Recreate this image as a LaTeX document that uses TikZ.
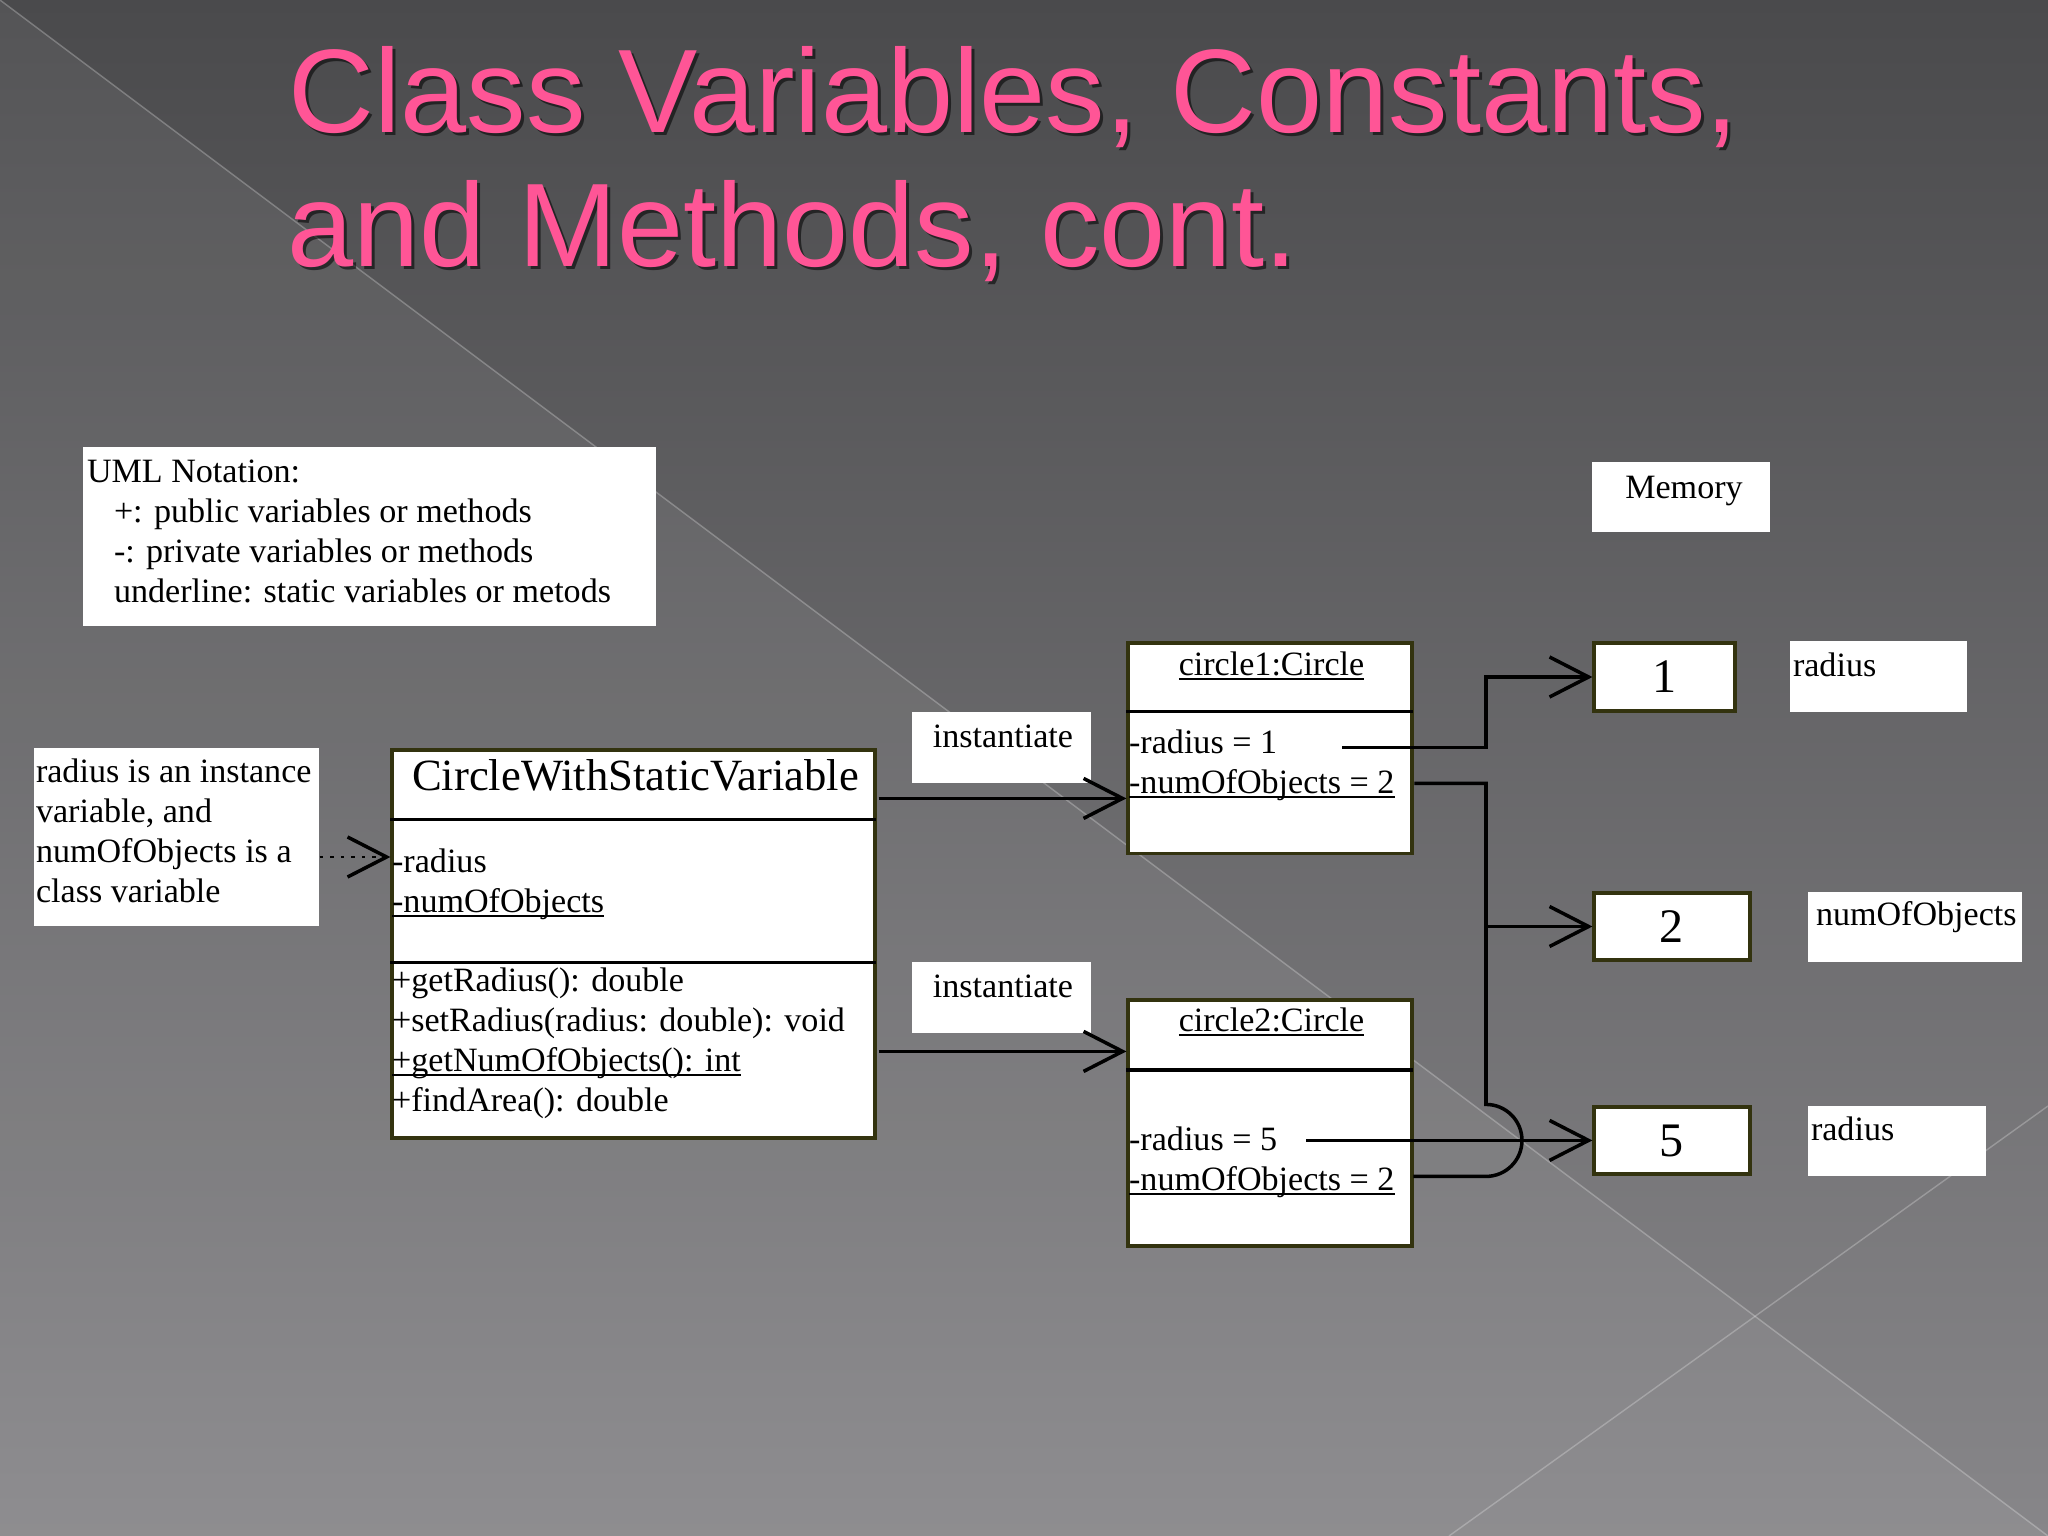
\documentclass[tikz,border=0pt]{standalone}
\usepackage{fontspec}
\setmainfont{Liberation Serif}
\newfontfamily\titolofont{Liberation Sans}
\usepackage{tikz}
\usetikzlibrary{positioning, arrows.meta, calc}
\definecolor{sfondoalto}{HTML}{4A4A4C}
\definecolor{sfondobasso}{HTML}{878689}
\definecolor{titolocol}{HTML}{FF5596}
\definecolor{bordocol}{HTML}{33330F}
% sottolineatura (membri statici)
\newcommand{\statico}[1]{\setbox0\hbox{#1}\rlap{\rule[-1.4pt]{\wd0}{0.55pt}}\box0}
\tikzset{
	>={Straight Barb[length=3.9mm, width=4mm, line width=1pt]},
	% testo del diagramma
	testo/.style={anchor=base west, inner sep=0pt, font=\fontsize{9.7}{11.4}\selectfont},
	% riquadro bianco senza bordo
	nota/.style={rectangle, fill=white, inner sep=0pt},
	% classe / oggetto UML
	uml/.style={draw=bordocol, line width=0.9pt, rectangle, fill=white, inner sep=0pt},
	% cella di memoria
	cella/.style={uml, font=\fontsize{13.7}{16}\selectfont},
	% separatore tra i compartimenti
	divisorio/.style={line width=0.9pt, black},
	% collegamenti
	collegamento/.style={line width=1pt, black},
	freccia/.style={collegamento, ->},
	% titolo della slide
	titolo/.style={anchor=base west, inner sep=0pt, font=\titolofont\fontsize{33.8}{38}\selectfont, text=titolocol},
	ombra/.style={titolo, text=black, opacity=0.55},
}

\begin{document}
\begin{tikzpicture}
    % sfondo
    \useasboundingbox (0,0) rectangle (20.48,-15.36);
    \shade[top color=sfondoalto, bottom color=sfondobasso] (0,0) rectangle (20.48,-15.36);
    \fill[white, opacity=0.06] (0,0) -- (20.48,-15.36) -- (0,-15.36) -- cycle;
    \draw[white, opacity=0.25, line width=0.4pt] (0,0) -- (20.48,-15.36);
    \draw[white, opacity=0.25, line width=0.4pt] (20.48,-11.06) -- (14.49,-15.36);
    % titolo
    \node[ombra] (titolo1o) at (2.91,-1.36) {Class Variables, Constants,};
    \node[titolo] (titolo1) at (2.88,-1.33) {Class Variables, Constants,};
    \node[ombra] (titolo2o) at (2.90,-2.70) {and Methods, cont.};
    \node[titolo] (titolo2) at (2.87,-2.67) {and Methods, cont.};
    % legenda
    \node[nota, minimum width=5.73cm, minimum height=1.79cm] (legenda) at (3.695,-5.365) {};
    \node[testo] (legenda0) at ($(legenda.north west)+(0.04,-0.36)$) {UML Notation:};
    \foreach \riga [count=\i] in {{+: public variables or methods}, {-: private variables or methods}, {underline: static variables or metods}}
      \node[testo] (legenda\i) at ($(legenda.north west)+(0.31,-0.36-0.40*\i)$) {\riga};
    % commento
    \node[nota, minimum width=2.85cm, minimum height=1.78cm] (commento) at (1.765,-8.37) {};
    \foreach \riga [count=\i from 0] in {radius is an instance, {variable, and}, numOfObjects is a, class variable}
      \node[testo] (commento\i) at ($(commento.north west)+(0.02,-0.355-0.40*\i)$) {\riga};
    % classe
    \node[uml, minimum width=4.83cm, minimum height=3.88cm] (classe) at (6.335,-9.44) {};
    \node[anchor=base, inner sep=0pt, font=\fontsize{12.7}{15}\selectfont] (classenome) at ($(classe.north)+(0.02,-0.42)$) {CircleWithStaticVariable};
    \draw[divisorio] ($(classe.north west)+(0,-0.71)$) -- ++(4.86,0);
    \draw[divisorio] ($(classe.north west)+(0,-2.14)$) -- ++(4.86,0);
    \node[testo] (attr1) at ($(classe.north west)+(0.01,-1.24)$) {-radius};
    \node[testo] (attr2) at ($(classe.north west)+(0.01,-1.64)$) {\statico{-numOfObjects}};
    \foreach \m [count=\i from 0] in {{+getRadius(): double}, {+setRadius(radius: double): void}, {\statico{+getNumOfObjects(): int}}, {+findArea(): double}}
      \node[testo] (metodo\i) at ($(classe.north west)+(0.01,-2.43-0.40*\i)$) {\m};
    % instantiate
    \node[nota, minimum width=1.79cm, minimum height=0.71cm] (istanza1) at (10.015,-7.475) {};
    \node[testo, anchor=base] (istanza1t) at ($(istanza1.north)+(0.015,-0.36)$) {instantiate};
    \node[nota, minimum width=1.79cm, minimum height=0.71cm] (istanza2) at (10.015,-9.975) {};
    \node[testo, anchor=base] (istanza2t) at ($(istanza2.north)+(0.015,-0.36)$) {instantiate};
    % oggetti
    \node[uml, minimum width=2.84cm, minimum height=2.105cm] (oggetto1) at (12.70,-7.4825) {};
    \node[testo, anchor=base] (oggetto1nome) at ($(oggetto1.north)+(0.015,-0.34)$) {\statico{circle1:Circle}};
    \draw[divisorio] ($(oggetto1.north west)+(0,-0.70)$) -- ++(2.87,0);
    \node[testo] (oggetto1r) at ($(oggetto1.north west)+(0.02,-1.12)$) {-radius = 1};
    \node[testo] (oggetto1n) at ($(oggetto1.north west)+(0.02,-1.52)$) {\statico{-numOfObjects = 2}};
    \node[uml, minimum width=2.84cm, minimum height=2.46cm] (oggetto2) at (12.70,-11.23) {};
    \node[testo, anchor=base] (oggetto2nome) at ($(oggetto2.north)+(0.015,-0.33)$) {\statico{circle2:Circle}};
    \draw[divisorio] ($(oggetto2.north west)+(0,-0.715)$) -- ++(2.87,0);
    \node[testo] (oggetto2r) at ($(oggetto2.north west)+(0.02,-1.525)$) {-radius = 5};
    \node[testo] (oggetto2n) at ($(oggetto2.north west)+(0.02,-1.92)$) {\statico{-numOfObjects = 2}};
    % memoria
    \node[nota, minimum width=1.78cm, minimum height=0.70cm] (memoria) at (16.81,-4.97) {};
    \node[testo, anchor=base] (memoriat) at ($(memoria.north)+(0.03,-0.37)$) {Memory};
    \node[cella, minimum width=1.41cm, minimum height=0.68cm] (valore1) at (16.645,-6.77) {1};
    \node[cella, minimum width=1.56cm, minimum height=0.67cm] (valore2) at (16.72,-9.265) {2};
    \node[cella, minimum width=1.56cm, minimum height=0.67cm] (valore5) at (16.72,-11.405) {5};
    \node[nota, minimum width=1.77cm, minimum height=0.71cm] (etich1) at (18.785,-6.765) {};
    \node[testo] (etich1t) at ($(etich1.north west)+(0.03,-0.36)$) {radius};
    \node[nota, minimum width=2.14cm, minimum height=0.70cm] (etich2) at (19.15,-9.265) {};
    \node[testo] (etich2t) at ($(etich2.north west)+(0.08,-0.345)$) {numOfObjects};
    \node[nota, minimum width=1.78cm, minimum height=0.70cm] (etich3) at (18.97,-11.41) {};
    \node[testo] (etich3t) at ($(etich3.north west)+(0.03,-0.355)$) {radius};
    % commento -> classe
    \coordinate (punta) at ($(commento.east)+(0,-0.20)$);
    \draw[freccia, dotted, line width=0.7pt] (punta) -- (punta -| classe.west);
    % classe -> oggetti
    \coordinate (inst1) at ($(classe.north east)+(0.02,-0.50)$);
    \draw[freccia] (inst1) -- (inst1 -| oggetto1.west);
    \coordinate (inst2) at ($(classe.north east)+(0.02,-3.03)$);
    \draw[freccia] (inst2) -- (inst2 -| oggetto2.west);
    % oggetti -> memoria
    \coordinate (bus) at (14.86,0);
    \coordinate (da1) at ($(oggetto1.north west)+(2.16,-1.06)$);
    \coordinate (dan1) at ($(oggetto1.north west)+(2.88,-1.42)$);
    \coordinate (da5) at ($(oggetto2.north west)+(1.80,-1.42)$);
    \coordinate (dan2) at ($(oggetto2.north west)+(2.87,-1.78)$);
    \draw[freccia] (da1) -- (da1 -| bus) |- (valore1.west);
    \draw[collegamento] (dan1) -- (dan1 -| bus) -- ($(bus |- da5)+(0,0.36)$) arc[start angle=90, end angle=-90, radius=0.36] -- (dan2);
    \draw[freccia] (bus |- valore2.west) -- (valore2.west);
    \draw[freccia] (da5) -- (da5 -| valore5.west);
\end{tikzpicture}
\end{document}
